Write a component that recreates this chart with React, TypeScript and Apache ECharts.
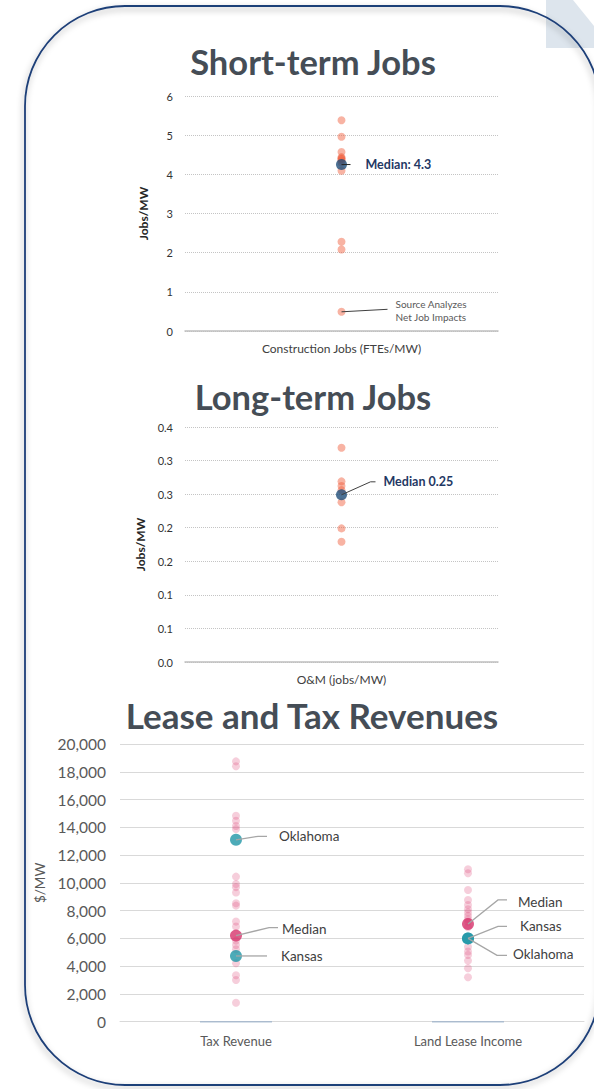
import React, { useEffect, useRef } from "react";
import * as echarts from "echarts";

// ---------- data ----------
const shortTermCategory = ["Construction Jobs (FTEs/MW)"];
const shortTermJobs = [5.38, 4.96, 4.57, 4.44, 4.41, 4.39, 4.36, 4.3, 4.09, 2.28, 2.08, 0.49];
const shortTermMedian = [4.25];
const shortTermMedianLabel = "Median: 4.3";
const netImpactValue = 0.49;
const netImpactLabel = ["Source Analyzes", "Net Job Impacts"];

const longTermCategory = ["O&M (jobs/MW)"];
const longTermJobs = [0.319, 0.269, 0.262, 0.256, 0.238, 0.199, 0.179];
const longTermMedian = [0.249];
const longTermMedianLabel = "Median 0.25";

const revenueCategories = ["Tax Revenue", "Land Lease Income"];
const taxRevenue = [
  18750, 18400, 14830, 14470, 14100, 13870, 10450, 9920, 9690, 9300, 8530, 8360,
  7210, 6850, 5840, 5530, 5220, 4210, 3340, 3000, 1370,
];
const landLeaseIncome = [
  10980, 10690, 9490, 8770, 8410, 8100, 7860, 7620, 7380, 7200, 6800, 5400, 5050,
  4810, 4400, 3850, 3200,
];
const revenueMedians = [6200, 7040];
const kansasValues = [4735, 6000];
const oklahomaValues = [13100, 6000];

const titles = ["Short-term Jobs", "Long-term Jobs", "Lease and Tax Revenues"];

// ---------- styles ----------
const FONT = "Lato, 'Open Sans', sans-serif";
const TITLE_COLOR = "#454D56";
const NAVY = "#1F4E79";
const SALMON = "rgba(240, 96, 63, 0.6)";
const PINK = "rgba(224, 80, 127, 0.35)";
const MEDIAN_PINK = "#D6336C";
const TEAL = "#2196A6";

function txt(x: number, y: number, text: string, font: string, fill: string, align = "left") {
  return {
    type: "text",
    x,
    y,
    z: 20,
    style: {
      text,
      font,
      fill,
      align,
      verticalAlign: "middle",
      textAlign: align,
      textVerticalAlign: "middle",
    },
  };
}

function poly(points: number[][], stroke: string, lineWidth = 1) {
  return {
    type: "polyline",
    z: 15,
    shape: { points },
    style: { stroke, lineWidth, fill: null },
  };
}

export default function App() {
  const ref = useRef<HTMLDivElement>(null);

  useEffect(() => {
    document.body.style.margin = "0";
    const chart = echarts.init(ref.current!, null, { renderer: "svg" });

    const jobsYAxis = (gridIndex: number, max: number, interval: number, fmt?: any) => ({
      type: "value",
      gridIndex,
      min: 0,
      max,
      interval,
      name: "Jobs/MW",
      nameLocation: "middle",
      nameGap: 36,
      nameRotate: 90,
      nameTextStyle: { fontFamily: FONT, fontSize: 12, fontWeight: "bold", color: "#262626" },
      axisLine: { show: false },
      axisTick: { show: false },
      axisLabel: { fontFamily: FONT, fontSize: 11, color: "#333", margin: 12, formatter: fmt },
      splitLine: { show: true, lineStyle: { type: "dotted", color: "#c4c4c4", width: 1 } },
    });

    const jobsXAxis = (gridIndex: number, data: string[]) => ({
      type: "category",
      gridIndex,
      data,
      axisLine: { show: true, lineStyle: { color: "#bfbfbf", width: 1.5 } },
      axisTick: { show: false },
      axisLabel: { fontFamily: FONT, fontSize: 12, color: "#404040", margin: 11 },
    });

    const option: any = {
      animation: false,
      backgroundColor: "#ffffff",
      textStyle: { fontFamily: FONT },
      grid: [
        { left: 185, right: 96, top: 96, height: 235 },
        { left: 185, right: 96, top: 427, height: 235 },
        { left: 120, right: 10, top: 744, height: 277.7 },
      ],
      xAxis: [
        jobsXAxis(0, shortTermCategory),
        jobsXAxis(1, longTermCategory),
        {
          type: "category",
          gridIndex: 2,
          data: revenueCategories,
          axisLine: { show: true, lineStyle: { color: "#d9d9d9", width: 1 } },
          axisTick: { show: false },
          axisLabel: { fontFamily: FONT, fontSize: 13, color: "#595959", margin: 13 },
        },
      ],
      yAxis: [
        jobsYAxis(0, 6, 1),
        jobsYAxis(1, 0.35, 0.05, (v: number) => (Math.round(v * 10 + 1e-6) / 10).toFixed(1)),
        {
          type: "value",
          gridIndex: 2,
          min: 0,
          max: 20000,
          interval: 2000,
          name: "$/MW",
          nameLocation: "middle",
          nameGap: 57,
          nameRotate: 90,
          nameTextStyle: { fontFamily: FONT, fontSize: 13.5, color: "#595959" },
          axisLine: { show: false },
          axisTick: { show: false },
          axisLabel: {
            fontFamily: FONT,
            fontSize: 15.5,
            color: "#595959",
            margin: 14,
            formatter: (v: number) => v.toLocaleString("en-US"),
          },
          splitLine: { show: true, lineStyle: { type: "solid", color: "#d9d9d9", width: 1 } },
        },
      ],
      series: [
        {
          name: "Short-term jobs",
          type: "scatter",
          xAxisIndex: 0,
          yAxisIndex: 0,
          symbolSize: 8,
          itemStyle: { color: SALMON },
          data: shortTermJobs.map((v) => [0, v]),
        },
        {
          name: "Short-term median",
          type: "scatter",
          xAxisIndex: 0,
          yAxisIndex: 0,
          symbolSize: 11,
          z: 5,
          itemStyle: { color: NAVY },
          data: shortTermMedian.map((v) => [0, v]),
        },
        {
          name: "Long-term jobs",
          type: "scatter",
          xAxisIndex: 1,
          yAxisIndex: 1,
          symbolSize: 8,
          itemStyle: { color: SALMON },
          data: longTermJobs.map((v) => [0, v]),
        },
        {
          name: "Long-term median",
          type: "scatter",
          xAxisIndex: 1,
          yAxisIndex: 1,
          symbolSize: 11,
          z: 5,
          itemStyle: { color: NAVY },
          data: longTermMedian.map((v) => [0, v]),
        },
        {
          name: "Baseline",
          type: "scatter",
          xAxisIndex: 2,
          yAxisIndex: 2,
          symbol: "rect",
          symbolSize: [72, 1.5],
          z: 3,
          itemStyle: { color: "#9fb3ca" },
          data: revenueCategories.map((_, i) => [i, 0]),
        },
        {
          name: "Tax revenue",
          type: "scatter",
          xAxisIndex: 2,
          yAxisIndex: 2,
          symbolSize: 8,
          itemStyle: { color: PINK },
          data: taxRevenue.map((v) => [0, v]),
        },
        {
          name: "Land lease income",
          type: "scatter",
          xAxisIndex: 2,
          yAxisIndex: 2,
          symbolSize: 8,
          itemStyle: { color: PINK },
          data: landLeaseIncome.map((v) => [1, v]),
        },
        {
          name: "Median",
          type: "scatter",
          xAxisIndex: 2,
          yAxisIndex: 2,
          symbolSize: 12,
          z: 5,
          itemStyle: { color: MEDIAN_PINK },
          data: revenueMedians.map((v, i) => [i, v]),
        },
        {
          name: "Kansas",
          type: "scatter",
          xAxisIndex: 2,
          yAxisIndex: 2,
          symbolSize: 12,
          z: 6,
          itemStyle: { color: TEAL },
          data: kansasValues.map((v, i) => [i, v]),
        },
        {
          name: "Oklahoma",
          type: "scatter",
          xAxisIndex: 2,
          yAxisIndex: 2,
          symbolSize: 12,
          z: 6,
          itemStyle: { color: TEAL },
          data: oklahomaValues.map((v, i) => [i, v]),
        },
      ],
    };
    chart.setOption(option);

    const px = (g: number, x: number, y: number) =>
      chart.convertToPixel({ gridIndex: g } as any, [x, y]) as number[];

    const stMed = px(0, 0, shortTermMedian[0]);
    const stNet = px(0, 0, netImpactValue);
    const ltMed = px(1, 0, longTermMedian[0]);
    const taxOk = px(2, 0, oklahomaValues[0]);
    const taxMed = px(2, 0, revenueMedians[0]);
    const taxKs = px(2, 0, kansasValues[0]);
    const llMed = px(2, 1, revenueMedians[1]);
    const llKs = px(2, 1, kansasValues[1]);
    const llOk = px(2, 1, oklahomaValues[1]);

    const LEAD = "#a6a6a6";
    const labelFont = `13.5px ${FONT}`;

    const graphics: any[] = [
      {
        type: "polygon",
        z: 0,
        shape: { points: [[546, 0], [573, 0], [594, 26], [594, 48], [546, 48]] },
        style: { fill: "#dde5ed" },
      },
      {
        type: "rect",
        z: 100,
        shape: { x: 25, y: 6, width: 575, height: 1079, r: 100 },
        style: {
          fill: null,
          stroke: "#1f3f78",
          lineWidth: 1.8,
          shadowBlur: 6,
          shadowColor: "rgba(0,0,0,0.35)",
          shadowOffsetX: -1,
          shadowOffsetY: 3,
        },
      },
      txt(313, 61, titles[0], `bold 34.5px ${FONT}`, TITLE_COLOR, "center"),
      txt(313, 396, titles[1], `bold 34.5px ${FONT}`, TITLE_COLOR, "center"),
      txt(312, 715, titles[2], `bold 35px ${FONT}`, TITLE_COLOR, "center"),

      // short-term annotations
      poly([[stMed[0], stMed[1]], [stMed[0] + 9, stMed[1]]], "#262626", 1),
      txt(stMed[0] + 24, stMed[1], shortTermMedianLabel, `bold 12.5px ${FONT}`, "#1F3864"),
      poly([[stNet[0], stNet[1]], [stNet[0] + 46, stNet[1] - 2.5]], "#404040", 1),
      txt(stNet[0] + 54, stNet[1] - 7.5, netImpactLabel[0], `10px ${FONT}`, "#595959"),
      txt(stNet[0] + 54, stNet[1] + 5.5, netImpactLabel[1], `10px ${FONT}`, "#595959"),

      // long-term annotation
      poly([[ltMed[0], ltMed[1]], [ltMed[0] + 29, ltMed[1] - 13], [ltMed[0] + 34, ltMed[1] - 13]], "#404040", 1),
      txt(ltMed[0] + 42, ltMed[1] - 13, longTermMedianLabel, `bold 12.5px ${FONT}`, "#1F3864"),

      // tax revenue annotations
      poly([[taxOk[0], taxOk[1]], [taxOk[0] + 22, taxOk[1] - 3.5], [taxOk[0] + 31, taxOk[1] - 3.5]], LEAD, 1.3),
      txt(taxOk[0] + 43, taxOk[1] - 3.5, "Oklahoma", labelFont, "#404040"),
      poly([[taxMed[0], taxMed[1]], [taxMed[0] + 33, taxMed[1] - 8], [taxMed[0] + 42, taxMed[1] - 8]], LEAD, 1.3),
      txt(taxMed[0] + 46, taxMed[1] - 7, "Median", labelFont, "#404040"),
      poly([[taxKs[0], taxKs[1]], [taxKs[0] + 31, taxKs[1]]], LEAD, 1.3),
      txt(taxKs[0] + 45, taxKs[1], "Kansas", labelFont, "#404040"),

      // land lease annotations
      poly([[llMed[0], llMed[1]], [llMed[0] + 30, llMed[1] - 24], [llMed[0] + 39, llMed[1] - 24]], LEAD, 1.3),
      txt(llMed[0] + 50, llMed[1] - 22, "Median", labelFont, "#404040"),
      poly([[llKs[0], llKs[1]], [llKs[0] + 30, llKs[1] - 12], [llKs[0] + 39, llKs[1] - 12]], LEAD, 1.3),
      txt(llKs[0] + 52, llKs[1] - 12, "Kansas", labelFont, "#404040"),
      poly([[llOk[0], llOk[1]], [llOk[0] + 29, llOk[1] + 17], [llOk[0] + 39, llOk[1] + 17]], LEAD, 1.3),
      txt(llOk[0] + 45, llOk[1] + 16, "Oklahoma", labelFont, "#404040"),
    ];

    chart.setOption({ graphic: { elements: graphics } });

    return () => chart.dispose();
  }, []);

  return (
    <div
      ref={ref}
      style={{ position: "fixed", left: 0, top: 0, width: 594, height: 1089, background: "#fff" }}
    />
  );
}
